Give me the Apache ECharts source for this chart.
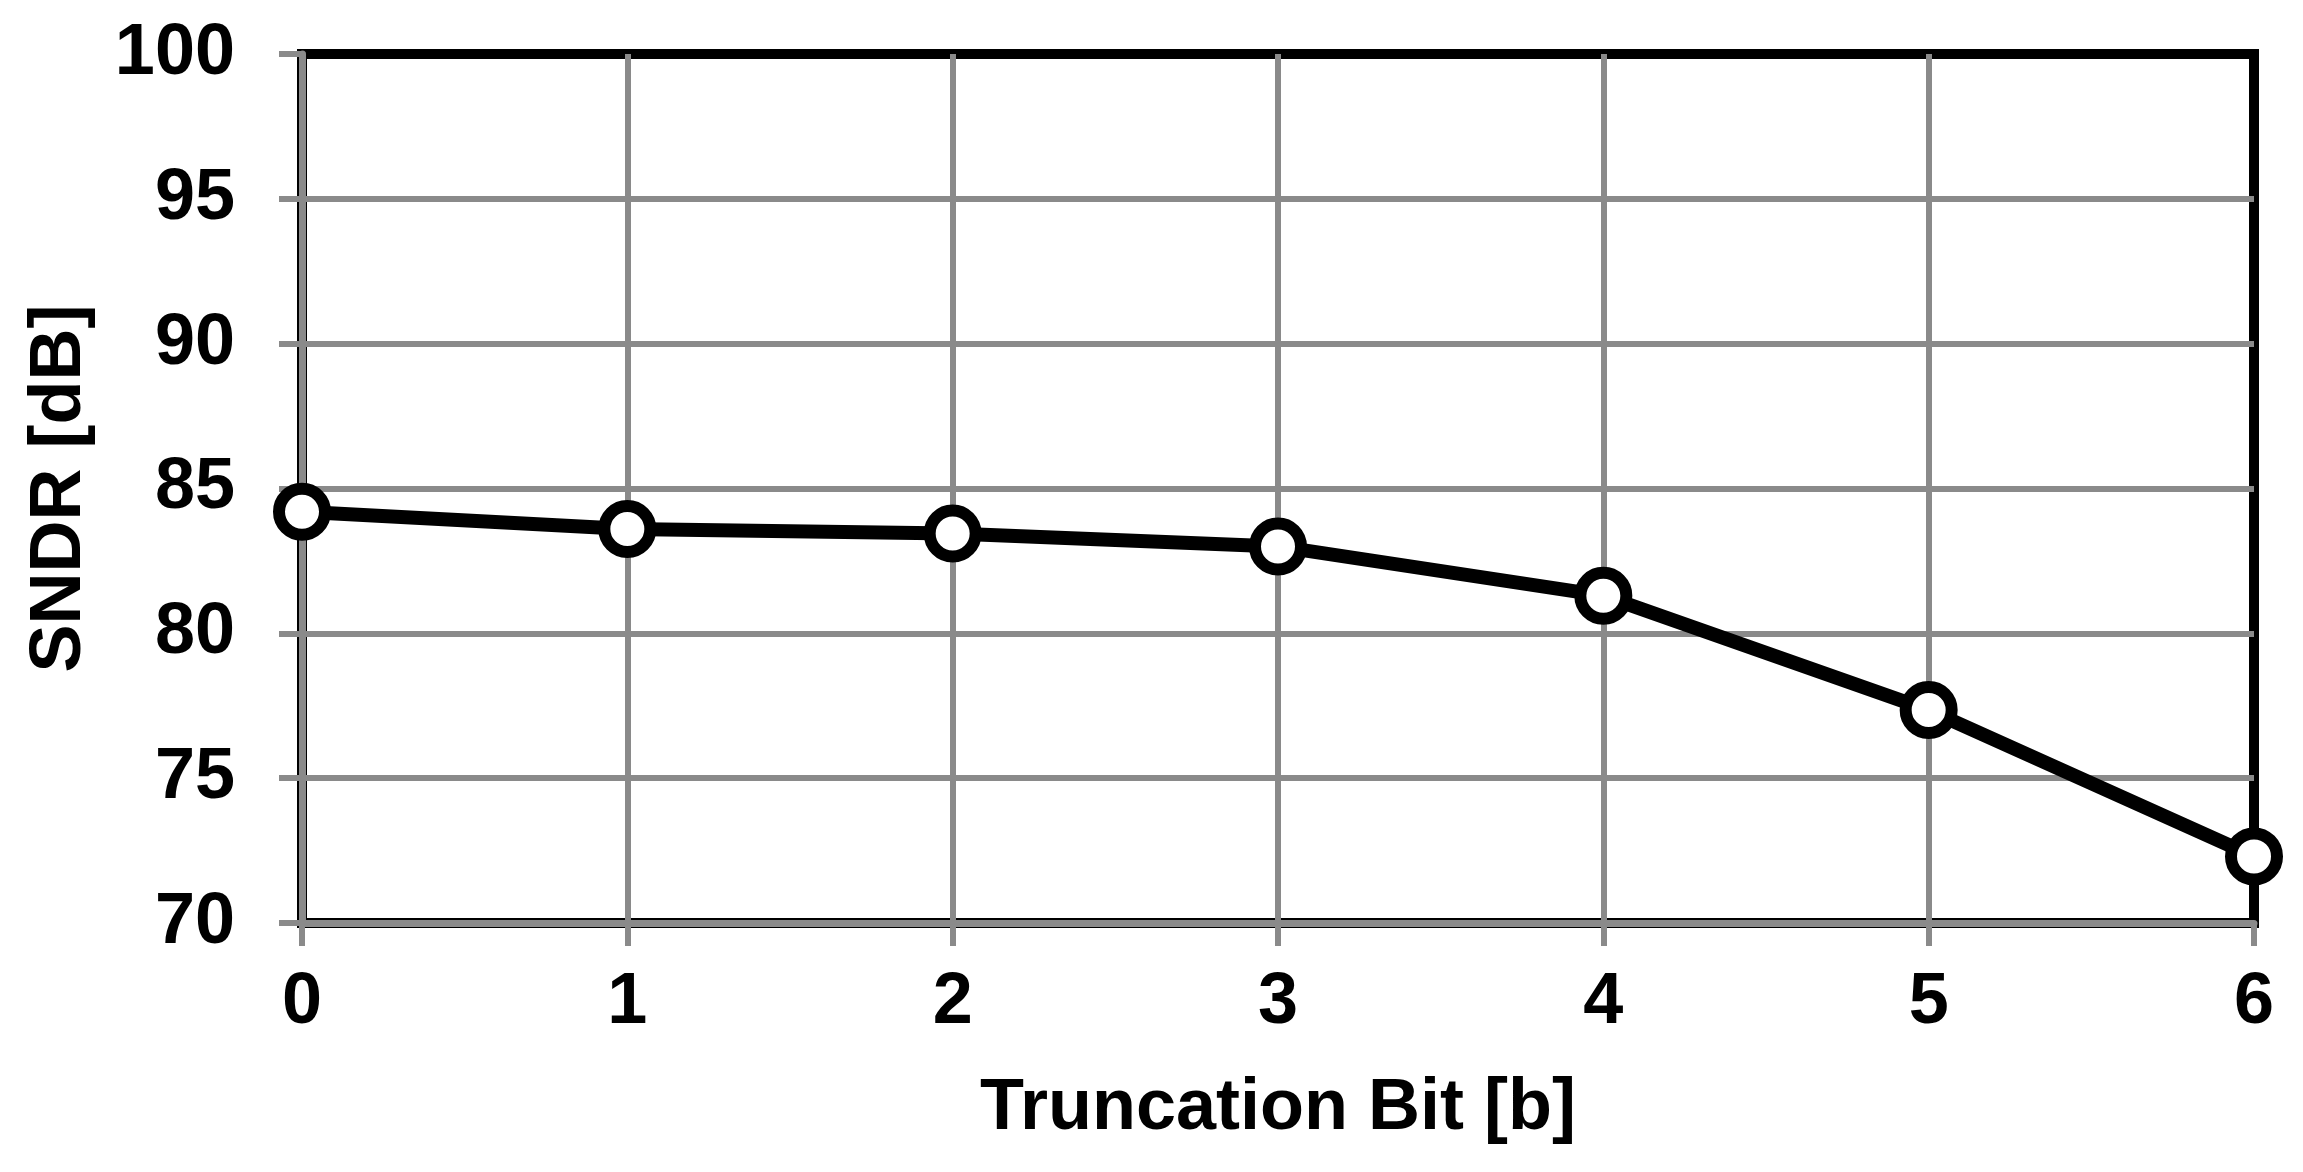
<!DOCTYPE html>
<html>
<head>
<meta charset="utf-8">
<script src="https://cdn.jsdelivr.net/npm/echarts@6/dist/echarts.min.js"></script>
<style>
html,body{margin:0;padding:0;background:#fff;}
#chart{width:2303px;height:1172px;}
</style>
</head>
<body>
<div id="chart"></div>
<script>
const truncationBits = [0, 1, 2, 3, 4, 5, 6];
const sndrValues = [84.2, 83.6, 83.45, 83.0, 81.3, 77.35, 72.3];
const xAxisTitle = 'Truncation Bit [b]';
const yAxisTitle = 'SNDR [dB]';

const font = "'Liberation Sans', Arial, sans-serif";
const gray = '#8a8a8a';

const chart = echarts.init(document.getElementById('chart'));
chart.setOption({
  backgroundColor: '#ffffff',
  animation: false,
  grid: {
    left: 302, right: 49, top: 54, bottom: 249,
    show: true, borderColor: '#000', borderWidth: 10, backgroundColor: 'transparent'
  },
  xAxis: {
    type: 'value', min: 0, max: 6, interval: 1,
    name: xAxisTitle, nameLocation: 'middle', nameGap: 150,
    nameTextStyle: { fontFamily: font, fontWeight: 'bold', fontSize: 72, color: '#000' },
    axisLine: { show: true, onZero: false, lineStyle: { color: gray, width: 7 } },
    axisTick: { show: true, length: 23, lineStyle: { color: gray, width: 6 } },
    axisLabel: { margin: 44, fontFamily: font, fontWeight: 'bold', fontSize: 72, color: '#000' },
    splitLine: { show: true, showMaxLine: false, lineStyle: { color: gray, width: 6 } }
  },
  yAxis: {
    type: 'value', min: 70, max: 100, interval: 5,
    name: yAxisTitle, nameLocation: 'middle', nameGap: 206,
    nameTextStyle: { fontFamily: font, fontWeight: 'bold', fontSize: 72, color: '#000' },
    axisLine: { show: true, lineStyle: { color: gray, width: 7 } },
    axisTick: { show: true, length: 23, lineStyle: { color: gray, width: 6 } },
    axisLabel: { margin: 67, fontFamily: font, fontWeight: 'bold', fontSize: 72, color: '#000' },
    splitLine: { show: true, showMaxLine: false, lineStyle: { color: gray, width: 6 } }
  },
  series: [{
    type: 'line',
    data: truncationBits.map((b, i) => [b, sndrValues[i]]),
    lineStyle: { color: '#000', width: 14 },
    symbol: 'circle', symbolSize: 46,
    itemStyle: { color: '#fff', borderColor: '#000', borderWidth: 12 },
    clip: false, z: 5
  }]
});
</script>
</body>
</html>
